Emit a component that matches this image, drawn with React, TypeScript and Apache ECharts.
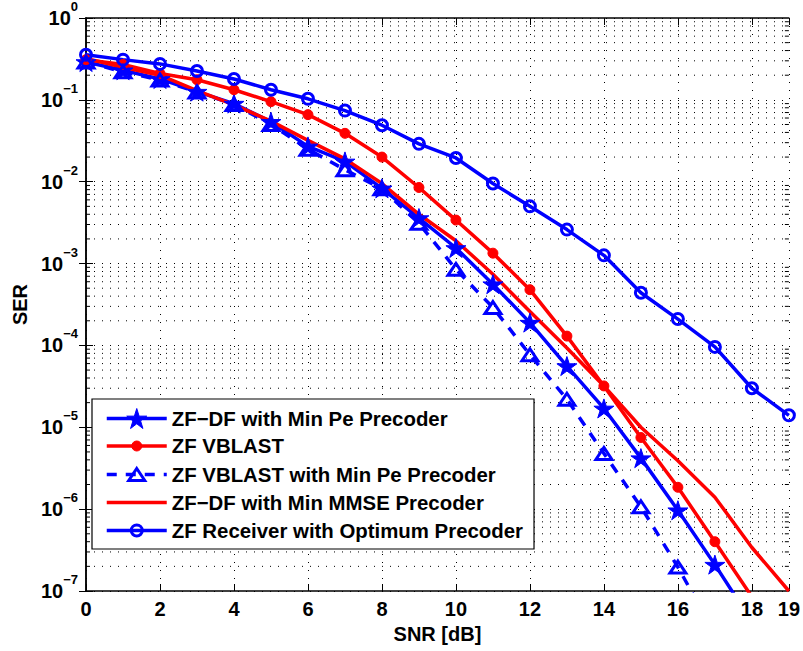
import React, { useEffect, useRef } from 'react';
import * as echarts from 'echarts';

// SNR values (dB)
const snr = [0, 1, 2, 3, 4, 5, 6, 7, 8, 9, 10, 11, 12, 13, 14, 15, 16, 17, 18, 19];

// Series values (SER)
const zfdfMinPe = [0.29, 0.23, 0.18, 0.126, 0.09, 0.054, 0.027, 0.0177, 0.0083, 0.0036, 0.00155, 5.6e-4, 1.9e-4, 5.6e-5, 1.7e-5, 4.2e-6, 9.7e-7, 2.1e-7, 4.2e-8];
const zfVblast = [0.31, 0.27, 0.21, 0.176, 0.133, 0.095, 0.066, 0.039, 0.02, 0.0085, 0.0034, 0.00134, 4.8e-4, 1.3e-4, 3.2e-5, 7.5e-6, 1.85e-6, 4.0e-7, 8.5e-8];
const zfVblastMinPe = [0.29, 0.22, 0.175, 0.125, 0.088, 0.05, 0.025, 0.014, 0.0082, 0.0031, 8.5e-4, 2.9e-4, 7.7e-5, 2.2e-5, 4.8e-6, 1.07e-6, 1.96e-7, 3.0e-8];
const zfdfMmse = [0.32, 0.25, 0.2, 0.13, 0.087, 0.055, 0.032, 0.019, 0.0095, 0.004, 0.0019, 7.4e-4, 2.6e-4, 9.3e-5, 3.2e-5, 1.0e-5, 3.9e-6, 1.4e-6, 3.4e-7, 1.0e-7];
const zfOptimum = [0.355, 0.31, 0.275, 0.225, 0.18, 0.133, 0.103, 0.074, 0.049, 0.029, 0.0195, 0.0095, 0.005, 0.0026, 0.00126, 4.4e-4, 2.1e-4, 9.6e-5, 3.0e-5, 1.4e-5];

const seriesNames = [
  'ZF\u2212DF with Min Pe Precoder',
  'ZF VBLAST',
  'ZF VBLAST with Min Pe Precoder',
  'ZF\u2212DF with Min MMSE Precoder',
  'ZF Receiver with Optimum Precoder',
];

const xAxisName = 'SNR [dB]';
const yAxisName = 'SER';

// minor log positions (2..9 within each decade)
const minorMultipliers = [2, 3, 4, 5, 6, 7, 8, 9];
const decades = [-7, -6, -5, -4, -3, -2, -1];

const FONT = 'Liberation Sans, Arial, Helvetica, sans-serif';
const BLUE = '#0000ff';
const RED = '#ff0000';
// All marker paths share a 20x20 box (invisible corner points) so plot and legend sizes agree
const BOX = 'M-10,-10L-10,-10M10,10L10,10';
const STAR =
  'path://M0,-10L2.245,-3.09L9.511,-3.09L3.633,1.18L5.878,8.09L0,3.82L-5.878,8.09L-3.633,1.18L-9.511,-3.09L-2.245,-3.09Z';
const DOT = `path://${BOX}M0,-5A5,5,0,1,1,0,5A5,5,0,1,1,0,-5Z`;
const RING = `path://${BOX}M0,-5.5A5.5,5.5,0,1,1,0,5.5A5.5,5.5,0,1,1,0,-5.5Z`;
const TRI = `path://${BOX}M0,-6L8,6L-8,6Z`;

const pairs = (ys: number[]) => ys.map((y, i) => [snr[i], y]);

export default function App() {
  const ref = useRef<HTMLDivElement>(null);

  useEffect(() => {
    document.body.style.margin = '0';
    if (!ref.current) return;
    const chart = echarts.init(ref.current, undefined, { renderer: 'svg' });

    const minorValues: number[] = [];
    decades.forEach((d) => minorMultipliers.forEach((k) => minorValues.push(k * Math.pow(10, d))));

    const dotted = { color: '#000', width: 1, type: [1, 7] as any };

    const option: any = {
      animation: false,
      backgroundColor: '#fff',
      textStyle: { fontFamily: FONT },
      grid: { left: 86, top: 16, right: 14, bottom: 60, containLabel: false },
      legend: {
        data: seriesNames,
        orient: 'vertical',
        left: 92,
        top: 399,
        padding: [9, 11, 7, 13],
        itemWidth: 60,
        itemHeight: 25,
        itemGap: 6.5,
        borderColor: '#000',
        borderWidth: 1.2,
        backgroundColor: '#fff',
        textStyle: { fontFamily: FONT, fontWeight: 'bold', fontSize: 20.4, color: '#000' },
        lineStyle: { width: 3.5 },
        itemStyle: { borderWidth: 'inherit' },
        selectedMode: false,
      },
      xAxis: [
        {
          type: 'value',
          min: 0,
          max: 19,
          interval: 2,
          position: 'bottom',
          name: xAxisName,
          nameLocation: 'middle',
          nameGap: 33,
          nameTextStyle: { fontFamily: FONT, fontWeight: 'bold', fontSize: 20, color: '#000' },
          axisLine: { show: true, lineStyle: { color: '#000', width: 1.5 } },
          axisTick: { show: true, inside: true, length: 7, lineStyle: { color: '#000', width: 1 } },
          axisLabel: { fontFamily: FONT, fontWeight: 'bold', fontSize: 20, color: '#000', margin: 8, hideOverlap: false },
          splitLine: { show: true, lineStyle: dotted },
        },
        {
          type: 'value',
          min: 0,
          max: 19,
          interval: 2,
          position: 'top',
          axisLine: { show: true, lineStyle: { color: '#000', width: 1.5 } },
          axisTick: { show: true, inside: true, length: 7, lineStyle: { color: '#000', width: 1 } },
          axisLabel: { show: false },
          splitLine: { show: false },
        },
      ],
      yAxis: [
        {
          type: 'log',
          logBase: 10,
          min: 1e-7,
          max: 1,
          splitNumber: 7,
          position: 'left',
          name: yAxisName,
          nameLocation: 'middle',
          nameGap: 56,
          nameTextStyle: { fontFamily: FONT, fontWeight: 'bold', fontSize: 20, color: '#000' },
          axisLine: { show: true, lineStyle: { color: '#000', width: 1.5 } },
          axisTick: { show: true, inside: true, length: 7, lineStyle: { color: '#000', width: 1 } },
          axisLabel: {
            margin: 8,
            padding: [0, 0, 8, 0],
            formatter: (v: number) => {
              const e = Math.round(Math.log10(v));
              return `{b|10}{e|${e === 0 ? '0' : '\u2212' + Math.abs(e)}}`;
            },
            rich: {
              b: { fontFamily: FONT, fontWeight: 'bold', fontSize: 20, color: '#000', lineHeight: 28, verticalAlign: 'bottom' },
              e: { fontFamily: FONT, fontWeight: 'bold', fontSize: 13, color: '#000', lineHeight: 14, verticalAlign: 'top' },
            },
          },
          splitLine: { show: true, lineStyle: dotted },
        },
        {
          type: 'log',
          logBase: 10,
          min: 1e-7,
          max: 1,
          splitNumber: 7,
          position: 'right',
          axisLine: { show: true, lineStyle: { color: '#000', width: 1.5 } },
          axisTick: { show: true, inside: true, length: 7, lineStyle: { color: '#000', width: 1 } },
          axisLabel: { show: false },
          splitLine: { show: false },
        },
      ],
      series: [
        {
          type: 'custom',
          name: 'minorGrid',
          silent: true,
          z: 1,
          xAxisIndex: 0,
          yAxisIndex: 0,
          data: minorValues.map((v) => [0, v]),
          renderItem: (params: any, api: any) => {
            const y = api.coord([0, api.value(1)])[1];
            const cs = params.coordSys;
            const x0 = cs.x;
            const x1 = cs.x + cs.width;
            return {
              type: 'group',
              children: [
                { type: 'line', shape: { x1: x0, y1: y, x2: x1, y2: y }, style: { stroke: '#000', lineWidth: 1, lineDash: [1, 7] } },
                { type: 'line', shape: { x1: x0, y1: y, x2: x0 + 4, y2: y }, style: { stroke: '#000', lineWidth: 1 } },
                { type: 'line', shape: { x1: x1 - 4, y1: y, x2: x1, y2: y }, style: { stroke: '#000', lineWidth: 1 } },
              ],
            };
          },
        },
        {
          name: seriesNames[0],
          type: 'line',
          data: pairs(zfdfMinPe),
          symbol: STAR,
          symbolSize: 20,
          symbolKeepAspect: true,
          lineStyle: { color: BLUE, width: 3.5 },
          itemStyle: { color: BLUE, borderColor: BLUE, borderWidth: 1 },
          z: 3,
        },
        {
          name: seriesNames[1],
          type: 'line',
          data: pairs(zfVblast),
          symbol: DOT,
          symbolSize: 20,
          symbolKeepAspect: true,
          lineStyle: { color: RED, width: 3.5 },
          itemStyle: { color: RED, borderColor: RED, borderWidth: 1 },
          z: 3,
        },
        {
          name: seriesNames[2],
          type: 'line',
          data: pairs(zfVblastMinPe),
          symbol: TRI,
          symbolSize: 20,
          symbolKeepAspect: true,
          lineStyle: { color: BLUE, width: 3.5, type: [10, 9] },
          itemStyle: { color: 'rgba(255,255,255,0)', borderColor: BLUE, borderWidth: 3 },
          z: 3,
        },
        {
          name: seriesNames[3],
          type: 'line',
          data: pairs(zfdfMmse),
          symbol: 'none',
          lineStyle: { color: RED, width: 3.5 },
          itemStyle: { color: 'rgba(255,255,255,0)', borderColor: 'rgba(255,255,255,0)', borderWidth: 0 },
          z: 3,
        },
        {
          name: seriesNames[4],
          type: 'line',
          data: pairs(zfOptimum),
          symbol: RING,
          symbolSize: 20,
          symbolKeepAspect: true,
          lineStyle: { color: BLUE, width: 3.5 },
          itemStyle: { color: 'rgba(255,255,255,0)', borderColor: BLUE, borderWidth: 3 },
          z: 3,
        },
      ],
    };

    chart.setOption(option);
    return () => chart.dispose();
  }, []);

  return <div ref={ref} style={{ position: 'absolute', left: 0, top: 0, width: 803, height: 651 }} />;
}
